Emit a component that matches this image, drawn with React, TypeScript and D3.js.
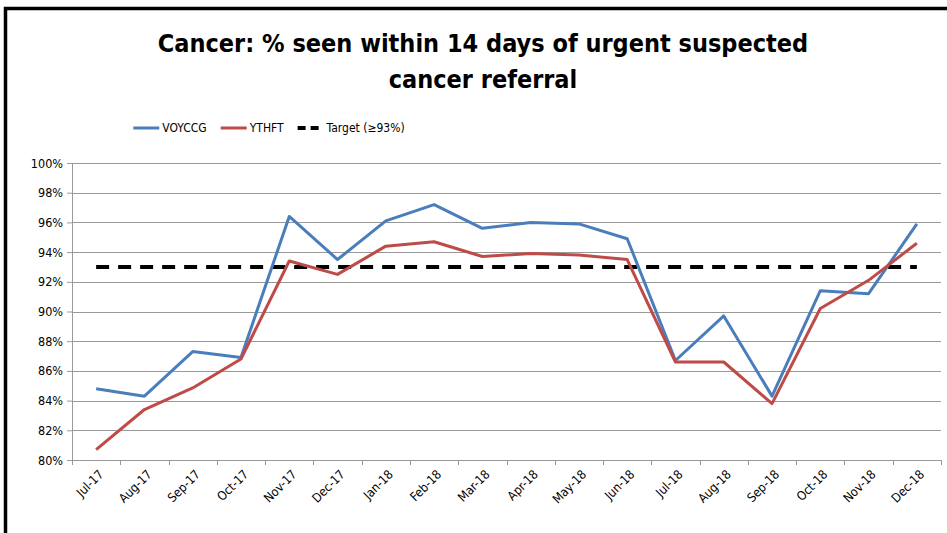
import React, { useEffect, useRef } from 'react';
import * as d3 from 'd3';

const months = ['Jul-17', 'Aug-17', 'Sep-17', 'Oct-17', 'Nov-17', 'Dec-17', 'Jan-18', 'Feb-18', 'Mar-18',
  'Apr-18', 'May-18', 'Jun-18', 'Jul-18', 'Aug-18', 'Sep-18', 'Oct-18', 'Nov-18', 'Dec-18'];
const voyccg = [84.8, 84.3, 87.3, 86.9, 96.4, 93.5, 96.1, 97.2, 95.6, 96.0, 95.9, 94.9, 86.7, 89.7, 84.3, 91.4, 91.2, 95.9];
const ythft = [80.7, 83.4, 84.85, 86.8, 93.4, 92.5, 94.4, 94.7, 93.7, 93.9, 93.8, 93.5, 86.6, 86.6, 83.8, 90.2, 92.1, 94.6];
const target = months.map(() => 93);
const yTicks = [80, 82, 84, 86, 88, 90, 92, 94, 96, 98, 100];

const FONT = '"Liberation Sans Narrow", "DejaVu Sans Condensed", "Open Sans", sans-serif';

export default function App() {
  const svgRef = useRef<SVGSVGElement>(null);

  useEffect(() => {
    if (!svgRef.current) return;
    const width = 947;
    const height = 533;
    const margin = { top: 163, right: 6, bottom: 73, left: 72 };
    const innerWidth = width - margin.left - margin.right;
    const innerHeight = height - margin.top - margin.bottom;

    const svg = d3.select(svgRef.current);
    svg.selectAll('*').remove();
    svg.attr('width', width).attr('height', height);

    svg.append('rect').attr('width', width).attr('height', height).attr('fill', '#fff');

    // frame (top + left edges visible)
    svg.append('path')
      .attr('d', `M5.5,${height} V8.5 H${width}`)
      .attr('fill', 'none')
      .attr('stroke', '#000')
      .attr('stroke-width', 3.5);

    // title
    const title = svg.append('text')
      .attr('text-anchor', 'middle')
      .attr('font-family', FONT)
      .attr('font-weight', 'bold')
      .attr('font-size', 25)
      .attr('fill', '#000');
    title.append('tspan').attr('x', 483).attr('y', 52).text('Cancer: % seen within 14 days of urgent suspected');
    title.append('tspan').attr('x', 483).attr('y', 88).text('cancer referral');

    const g = svg.append('g').attr('transform', `translate(${margin.left},${margin.top})`);

    const x = d3.scaleBand().domain(months).range([0, innerWidth]);
    const y = d3.scaleLinear().domain([80, 100]).range([innerHeight, 0]);
    const cx = (m: string) => (x(m) ?? 0) + x.bandwidth() / 2;

    // gridlines
    g.append('g')
      .selectAll('line')
      .data(yTicks.slice(1))
      .join('line')
      .attr('x1', 0)
      .attr('x2', innerWidth)
      .attr('y1', d => Math.round(y(d)) + 0.5)
      .attr('y2', d => Math.round(y(d)) + 0.5)
      .attr('stroke', '#999')
      .attr('stroke-width', 1);

    // y axis
    const yAxis = g.append('g')
      .call(d3.axisLeft(y).tickValues(yTicks).tickSize(5).tickPadding(4).tickFormat(d => `${d}%`));
    yAxis.select('.domain').attr('stroke', '#999');
    yAxis.selectAll('.tick line').attr('stroke', '#999');
    yAxis.selectAll('text').attr('font-family', FONT).attr('font-size', 12.5).attr('fill', '#000');

    // x axis
    const xAxis = g.append('g')
      .attr('transform', `translate(0,${innerHeight})`)
      .call(d3.axisBottom(x).tickSize(0).tickFormat(() => ''));
    xAxis.select('.domain').attr('stroke', '#999');
    xAxis.append('g')
      .selectAll('line')
      .data(d3.range(months.length + 1))
      .join('line')
      .attr('x1', i => Math.round(i * x.step()) + 0.5)
      .attr('x2', i => Math.round(i * x.step()) + 0.5)
      .attr('y1', 0)
      .attr('y2', 5)
      .attr('stroke', '#999');
    xAxis.append('g')
      .selectAll('text')
      .data(months)
      .join('text')
      .attr('transform', d => `translate(${cx(d) + 5},${12}) rotate(-45)`)
      .attr('text-anchor', 'end')
      .attr('dy', '0.35em')
      .attr('font-family', FONT)
      .attr('font-size', 12.5)
      .attr('fill', '#000')
      .text(d => d);

    const line = d3.line<number>()
      .x((d, i) => cx(months[i]))
      .y(d => y(d));

    g.append('path').datum(target)
      .attr('fill', 'none')
      .attr('stroke', '#000')
      .attr('stroke-width', 4)
      .attr('stroke-dasharray', '13,9')
      .attr('d', line);

    g.append('path').datum(voyccg)
      .attr('fill', 'none')
      .attr('stroke', '#4A7EBB')
      .attr('stroke-width', 3)
      .attr('stroke-linejoin', 'round')
      .attr('d', line);

    g.append('path').datum(ythft)
      .attr('fill', 'none')
      .attr('stroke', '#BE4B48')
      .attr('stroke-width', 3)
      .attr('stroke-linejoin', 'round')
      .attr('d', line);

    // legend, laid out left to right then centred
    const legend = [
      { name: 'VOYCCG', color: '#4A7EBB', dash: null as string | null },
      { name: 'YTHFT', color: '#BE4B48', dash: null },
      { name: 'Target (≥93%)', color: '#000', dash: '8,5' },
    ];
    const lg = svg.append('g');
    let cursor = 0;
    legend.forEach(l => {
      lg.append('line')
        .attr('x1', cursor).attr('x2', cursor + 26)
        .attr('y1', 128).attr('y2', 128)
        .attr('stroke', l.color)
        .attr('stroke-width', l.dash ? 4 : 3)
        .attr('stroke-dasharray', l.dash);
      const t = lg.append('text')
        .attr('x', cursor + 29).attr('y', 128)
        .attr('dy', '0.35em')
        .attr('font-family', FONT)
        .attr('font-size', 12)
        .attr('fill', '#000')
        .text(l.name);
      const w = (t.node() as SVGTextElement).getComputedTextLength();
      cursor += 29 + w + 14;
    });
    const total = cursor - 14;
    lg.attr('transform', `translate(${269 - total / 2},0)`);
  }, []);

  return (
    <div style={{ position: 'absolute', left: 0, top: 0 }}>
      <svg ref={svgRef} style={{ display: 'block' }} />
    </div>
  );
}
